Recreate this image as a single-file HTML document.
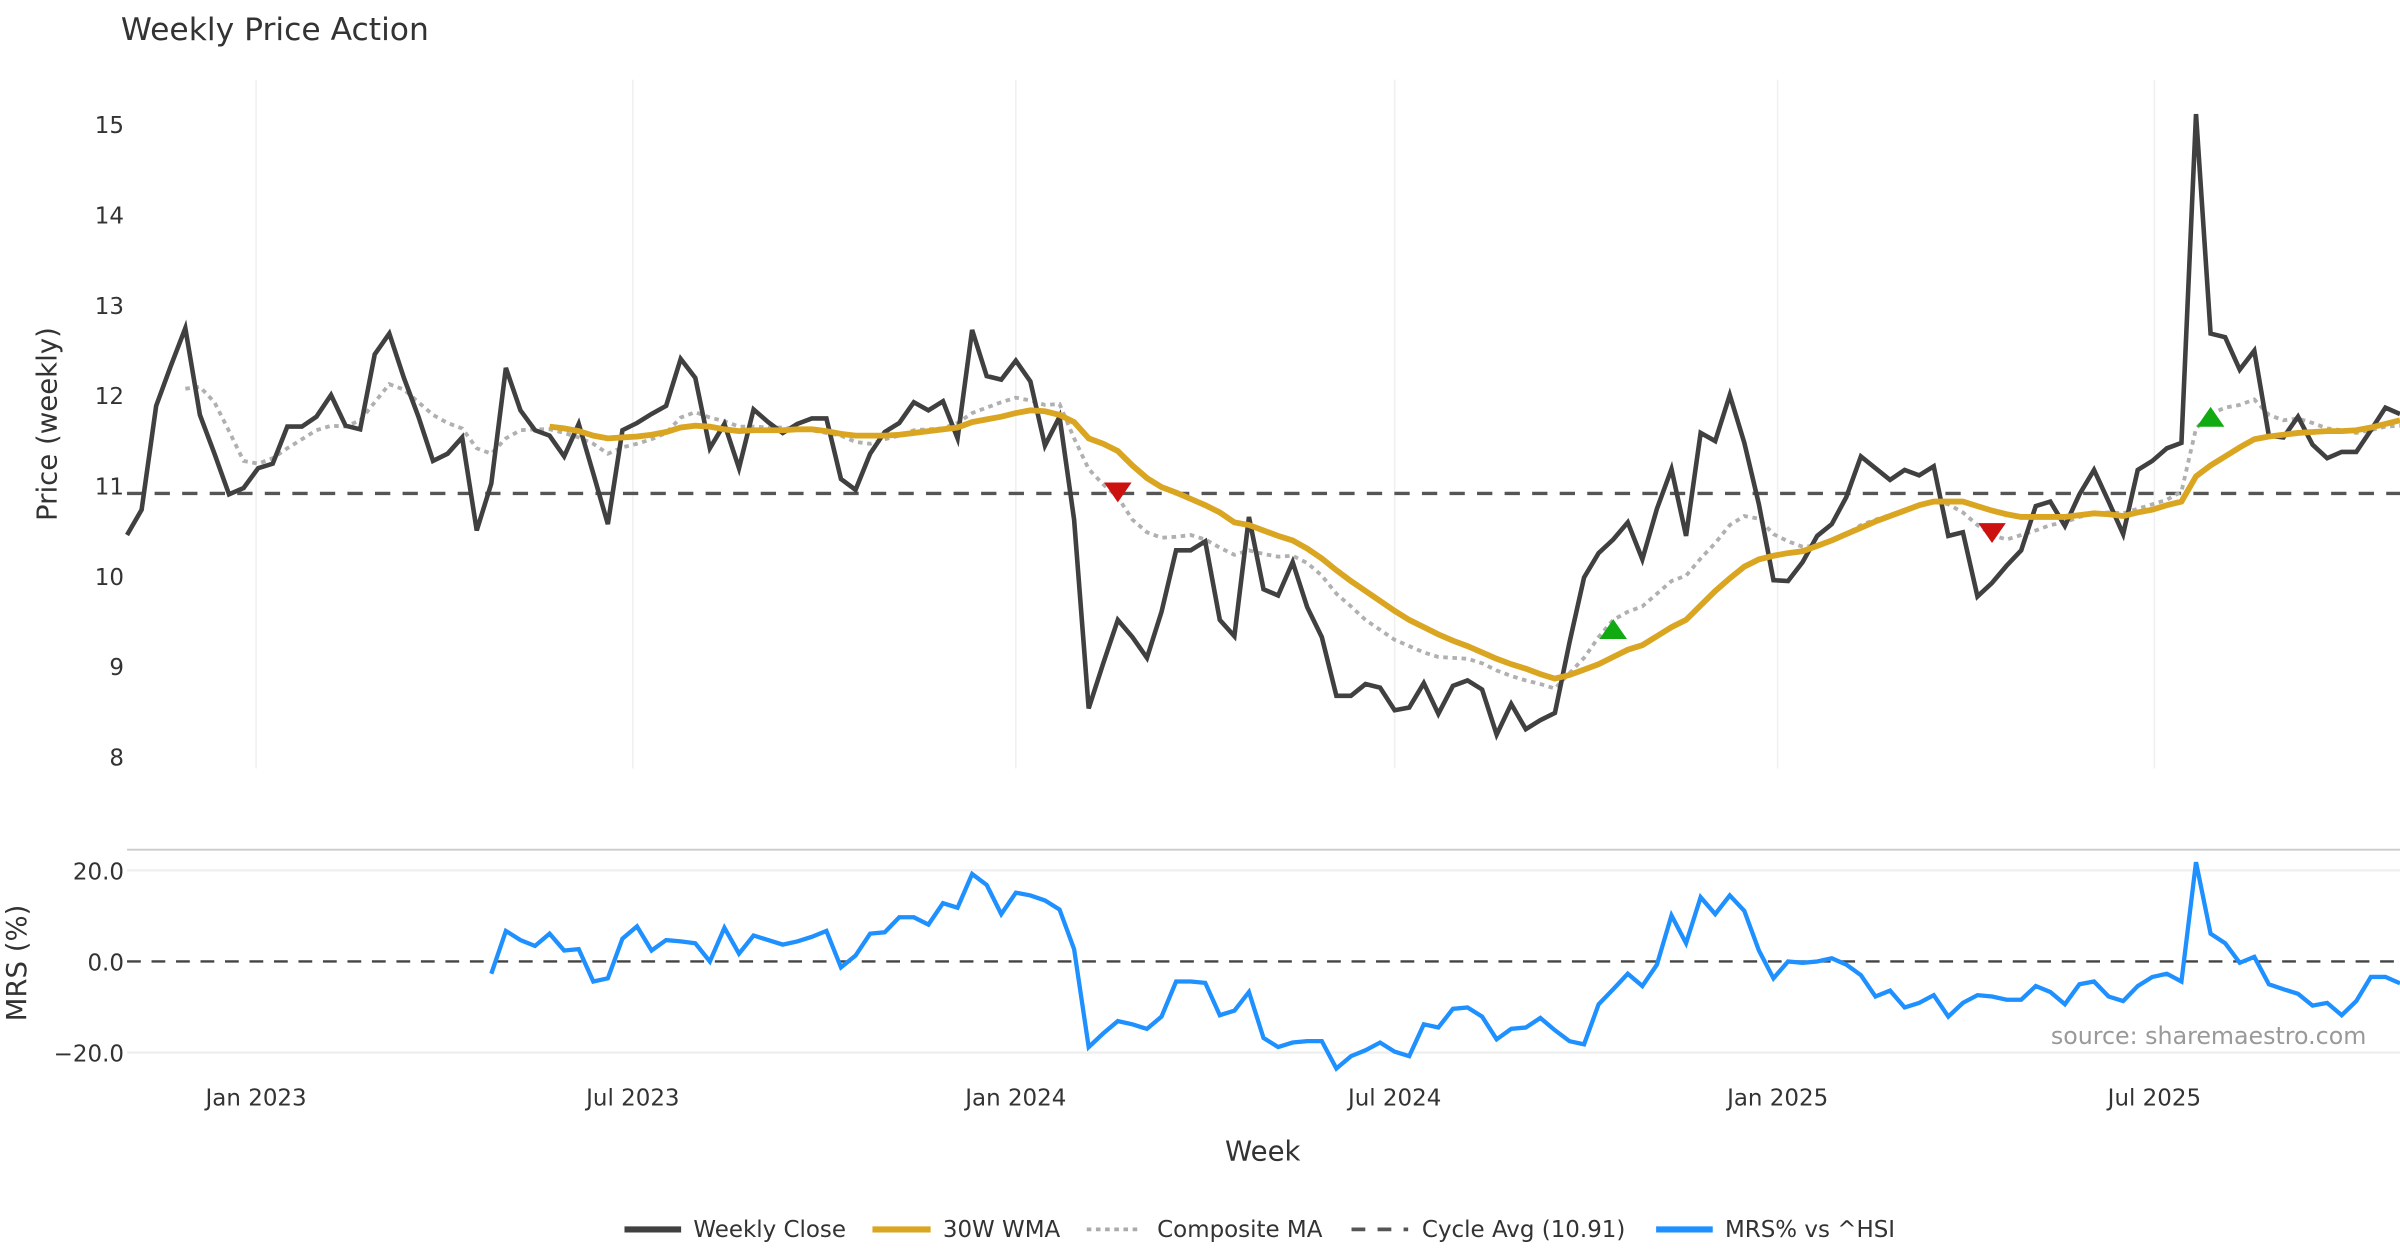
<!DOCTYPE html>
<html><head><meta charset="utf-8"><style>
html,body{margin:0;padding:0;background:#fff;}
svg{display:block;font-family:"DejaVu Sans","Liberation Sans",sans-serif;}
</style></head><body>
<svg id="chart" width="2400" height="1260" viewBox="0 0 1568 823" preserveAspectRatio="none" xmlns="http://www.w3.org/2000/svg">
<text x="79" y="26" font-size="20.5" fill="#333">Weekly Price Action</text>
<g id="grid"></g>
<g id="series"></g>
<text transform="translate(37,277) rotate(-90)" text-anchor="middle" font-size="18" fill="#333">Price (weekly)</text>
<text transform="translate(17,629) rotate(-90)" text-anchor="middle" font-size="18" fill="#333">MRS (%)</text>
<text x="825" y="758" text-anchor="middle" font-size="18" fill="#333">Week</text>
<text x="1546" y="682" text-anchor="end" font-size="15.5" fill="#999">source: sharemaestro.com</text>
<g id="legend" font-size="15" fill="#333">
 <g><line x1="408" y1="803" x2="445" y2="803" stroke="#404040" stroke-width="4"/><text x="453" y="808">Weekly Close</text></g>
 <g><line x1="570" y1="803" x2="608" y2="803" stroke="#DAA520" stroke-width="4"/><text x="616" y="808">30W WMA</text></g>
 <g><line x1="710" y1="803" x2="746" y2="803" stroke="#aaa" stroke-width="2.5" stroke-dasharray="3,3"/><text x="756" y="808">Composite MA</text></g>
 <g><line x1="883" y1="803" x2="920" y2="803" stroke="#555" stroke-width="2.5" stroke-dasharray="9,8"/><text x="929" y="808">Cycle Avg (10.91)</text></g>
 <g><line x1="1082" y1="803" x2="1119" y2="803" stroke="#1E90FF" stroke-width="4"/><text x="1127" y="808">MRS% vs ^HSI</text></g>
</g>
</svg>
<script>
const startDate = "2022-10-31";
const closeValues = [10.45,10.73,11.88,12.32,12.74,11.78,11.35,10.90,10.97,11.19,11.24,11.65,11.65,11.76,12.00,11.66,11.62,12.45,12.68,12.19,11.76,11.27,11.35,11.53,10.50,11.02,12.30,11.83,11.61,11.55,11.32,11.68,11.13,10.57,11.61,11.69,11.79,11.88,12.40,12.19,11.41,11.68,11.19,11.84,11.70,11.58,11.68,11.74,11.74,11.07,10.95,11.35,11.59,11.69,11.92,11.83,11.93,11.52,12.72,12.21,12.17,12.38,12.15,11.44,11.76,10.62,8.53,9.03,9.51,9.32,9.09,9.60,10.28,10.28,10.38,9.51,9.33,10.65,9.85,9.78,10.15,9.65,9.32,8.67,8.67,8.80,8.76,8.51,8.54,8.81,8.47,8.78,8.84,8.74,8.24,8.58,8.30,8.40,8.48,9.26,9.98,10.25,10.40,10.59,10.18,10.74,11.18,10.44,11.58,11.49,12.00,11.47,10.79,9.95,9.94,10.15,10.44,10.57,10.87,11.32,11.19,11.06,11.17,11.11,11.21,10.44,10.48,9.77,9.92,10.11,10.28,10.77,10.82,10.55,10.90,11.17,10.82,10.46,11.17,11.27,11.41,11.47,15.11,12.68,12.64,12.28,12.49,11.55,11.53,11.76,11.45,11.30,11.37,11.37,11.61,11.86,11.79];
const wmaStart = 29;
const wmaValues = [11.65,11.63,11.60,11.55,11.52,11.53,11.54,11.56,11.59,11.64,11.66,11.65,11.62,11.60,11.61,11.61,11.61,11.62,11.62,11.60,11.57,11.55,11.55,11.55,11.56,11.58,11.60,11.62,11.64,11.70,11.73,11.76,11.80,11.83,11.82,11.78,11.70,11.52,11.46,11.38,11.22,11.08,10.98,10.92,10.85,10.78,10.70,10.59,10.56,10.50,10.44,10.39,10.30,10.19,10.06,9.94,9.83,9.72,9.61,9.51,9.43,9.35,9.28,9.22,9.15,9.08,9.02,8.97,8.91,8.86,8.90,8.96,9.02,9.10,9.18,9.23,9.33,9.43,9.51,9.67,9.83,9.97,10.10,10.18,10.22,10.25,10.27,10.33,10.39,10.46,10.53,10.60,10.66,10.72,10.78,10.82,10.82,10.82,10.77,10.72,10.68,10.65,10.65,10.65,10.65,10.67,10.69,10.68,10.66,10.70,10.73,10.78,10.82,11.10,11.22,11.32,11.42,11.51,11.54,11.56,11.58,11.59,11.60,11.60,11.61,11.64,11.68,11.72];
const compStart = 4;
const compValues = [12.07,12.09,11.92,11.60,11.27,11.24,11.30,11.41,11.51,11.61,11.66,11.65,11.72,11.92,12.12,12.06,11.92,11.78,11.69,11.63,11.41,11.35,11.52,11.61,11.62,11.62,11.58,11.53,11.46,11.35,11.42,11.46,11.51,11.58,11.75,11.81,11.75,11.71,11.65,11.65,11.64,11.64,11.62,11.61,11.58,11.55,11.48,11.46,11.51,11.55,11.61,11.62,11.63,11.69,11.80,11.86,11.92,11.97,11.94,11.89,11.90,11.52,11.18,11.01,10.87,10.62,10.48,10.42,10.43,10.45,10.40,10.31,10.23,10.28,10.24,10.21,10.22,10.14,10.00,9.80,9.66,9.51,9.40,9.29,9.22,9.15,9.10,9.09,9.08,9.03,8.95,8.89,8.84,8.80,8.75,8.92,9.09,9.32,9.51,9.60,9.66,9.80,9.94,10.00,10.19,10.36,10.56,10.66,10.63,10.46,10.38,10.32,10.33,10.39,10.46,10.56,10.62,10.67,10.73,10.78,10.82,10.79,10.70,10.56,10.45,10.40,10.45,10.50,10.56,10.59,10.65,10.69,10.70,10.69,10.74,10.79,10.84,10.93,11.63,11.79,11.86,11.89,11.95,11.78,11.72,11.74,11.69,11.63,11.61,11.58,11.61,11.65,11.66];
const mrsStart = 25;
const mrsValues = [-2.7,6.7,4.7,3.4,6.1,2.4,2.7,-4.4,-3.7,5.0,7.7,2.4,4.7,4.4,4.0,0,7.4,1.7,5.7,4.7,3.7,4.4,5.4,6.7,-1.3,1.3,6.1,6.4,9.7,9.7,8.1,12.8,11.8,19.2,16.8,10.4,15.1,14.5,13.4,11.4,2.7,-18.8,-15.8,-13.1,-13.8,-14.8,-12.1,-4.4,-4.4,-4.7,-11.8,-10.8,-6.7,-16.8,-18.8,-17.8,-17.5,-17.5,-23.5,-20.8,-19.5,-17.8,-19.8,-20.8,-13.8,-14.5,-10.4,-10.1,-12.1,-17.1,-14.8,-14.5,-12.4,-15.1,-17.5,-18.2,-9.4,-6.1,-2.7,-5.4,-0.7,10.1,4.0,14.1,10.4,14.5,11.1,2.4,-3.7,0,-0.3,0,0.7,-0.7,-3.0,-7.7,-6.4,-10.1,-9.1,-7.4,-12.1,-9.1,-7.4,-7.7,-8.4,-8.4,-5.4,-6.7,-9.4,-5.0,-4.4,-7.7,-8.7,-5.4,-3.4,-2.7,-4.4,21.8,6.1,4.0,-0.3,1.0,-5.0,-6.1,-7.1,-9.7,-9.1,-11.8,-8.7,-3.4,-3.4,-4.8];
const cycleAvg = 10.91;
const sellIdx = [68,128];
const sellVals = [10.93,10.48];
const buyIdx = [102,143];
const buyVals = [9.40,11.75];
const priceTicks = [8,9,10,11,12,13,14,15];
const mrsTicks = [-20,0,20];
const mrsTickLabels = ["\u221220.0","0.0","20.0"];
const dateTicks = ["2023-01-01","2023-07-01","2024-01-01","2024-07-01","2025-01-01","2025-07-01"];
const dateTickLabels = ["Jan 2023","Jul 2023","Jan 2024","Jul 2024","Jan 2025","Jul 2025"];

const NS = "http://www.w3.org/2000/svg";
const X0 = 83, X1 = 1568;
const DAY = 86400000;
const t0 = Date.parse(startDate);
const tLast = t0 + (closeValues.length - 1) * 7 * DAY;
function xDate(t){ return X0 + (t - t0) / (tLast - t0) * (X1 - X0); }
function xIdx(i){ return xDate(t0 + i * 7 * DAY); }
function yPrice(v){ return 494 - (v - 8) * 59; }
function yMrs(v){ return 628 - v * 2.975; }
function mk(tag, attrs, parent){ const e = document.createElementNS(NS, tag); for (const k in attrs) e.setAttribute(k, attrs[k]); parent.appendChild(e); return e; }
const grid = document.getElementById('grid');
const ser = document.getElementById('series');

dateTicks.forEach((d, i) => {
  const x = xDate(Date.parse(d));
  const g1 = mk('line', {x1:x, x2:x, y1:52, y2:502, stroke:'#f0f0f0', 'stroke-width':1}, grid);
  
  
  const t = mk('text', {x:x, y:722, 'text-anchor':'middle', 'font-size':15, fill:'#333'}, grid);
  t.textContent = dateTickLabels[i];
  
  
});
priceTicks.forEach(v => {
  const t = mk('text', {x:81, y:yPrice(v) + 6, 'text-anchor':'end', 'font-size':15, fill:'#333'}, grid);
  t.textContent = String(v);
  
  
});
const sep = mk('line', {x1:83, x2:1568, y1:555, y2:555, stroke:'#ccc', 'stroke-width':1.2}, grid);


mrsTicks.forEach((v, i) => {
  const y = yMrs(v);
  if (v !== 0) {
    const gl = mk('line', {x1:83, x2:1568, y1:y, y2:y, stroke:'#efefef', 'stroke-width':1.5}, grid);
    
    
  }
  const t = mk('text', {x:81, y:y + 6, 'text-anchor':'end', 'font-size':15, fill:'#333'}, grid);
  t.textContent = mrsTickLabels[i];
  
  
});

function path(vals, start, yf){ return vals.map((v, k) => (k ? 'L' : 'M') + xIdx(start + k).toFixed(2) + ',' + yf(v).toFixed(2)).join(''); }

const cyc = mk('line', {x1:83, x2:1568, y1:yPrice(cycleAvg), y2:yPrice(cycleAvg), stroke:'#555', 'stroke-width':2.2, 'stroke-dasharray':'10,8'}, ser);


const z = mk('line', {x1:83, x2:1568, y1:yMrs(0), y2:yMrs(0), stroke:'#444', 'stroke-width':1.6, 'stroke-dasharray':'9,7'}, ser);



const comp = mk('path', {d:path(compValues, compStart, yPrice), fill:'none', stroke:'#b0b0b0', 'stroke-width':2.5, 'stroke-dasharray':'3,3'}, ser);


const cl = mk('path', {d:path(closeValues, 0, yPrice), fill:'none', stroke:'#404040', 'stroke-width':3, 'stroke-linejoin':'miter'}, ser);


const wma = mk('path', {d:path(wmaValues, wmaStart, yPrice), fill:'none', stroke:'#DAA520', 'stroke-width':3.8}, ser);


const mrs = mk('path', {d:path(mrsValues, mrsStart, yMrs), fill:'none', stroke:'#1E90FF', 'stroke-width':2.8}, ser);



sellIdx.forEach((i, k) => {
  const x = xIdx(i), y = yPrice(sellVals[k]);
  const p = mk('path', {d:`M${x-9},${y-6}L${x+9},${y-6}L${x},${y+7}Z`, fill:'#CC1111'}, ser);
  
  
});
buyIdx.forEach((i, k) => {
  const x = xIdx(i), y = yPrice(buyVals[k]);
  const p = mk('path', {d:`M${x-9},${y+6}L${x+9},${y+6}L${x},${y-7}Z`, fill:'#11AA11'}, ser);
  
  
});
</script>
</body></html>
